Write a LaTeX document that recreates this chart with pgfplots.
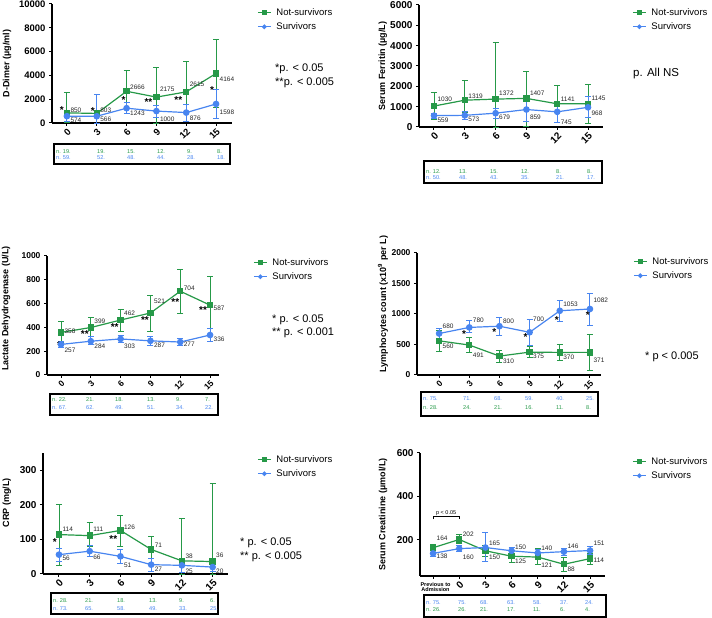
\documentclass[border=0pt]{standalone}
\usepackage{fontspec}
\setmainfont{Liberation Sans}
\usepackage{pgfplots}
\pgfplotsset{compat=1.18}
\usepackage{pgfplotstable}
\definecolor{gN}{RGB}{38,153,72}
\definecolor{bS}{RGB}{72,133,240}
\newcommand{\fs}[1]{\fontsize{#1}{#1}\selectfont}
\pgfkeys{/pgf/number format/.cd,1000 sep={},assume math mode=true}
\pgfplotsset{
 prism/.style={scale only axis, axis lines=left, axis line style={-, line width=1.3pt},
   tick style={line width=1pt,black}, tick align=outside, major tick length=3pt,
   clip=false, scaled y ticks=false, scaled x ticks=false, ymin=0,
   xtick={0,3,6,9,12,15},
   xticklabel style={rotate=45, anchor=north east, inner sep=1pt},
   ylabel style={font=\bfseries\fs{9}, anchor=center},
   legend cell align=left,
   legend style={draw=none, fill=none, inner sep=0pt, font=\fs{9.5}, row sep=2pt, column sep=3pt, anchor=north west},
   legend image code/.code={\draw[mark repeat=2,mark phase=2,##1,mark size=1.7pt] plot coordinates {(0pt,0pt) (6.5pt,0pt) (13pt,0pt)};}},
 vals/.style={nodes near coords, visualization depends on={\thisrow{s}\as\mys},
   every node near coord/.append style={anchor=west, xshift=2.5pt, yshift=\mys pt, font=\fs{6.5}, text=black!85, inner sep=0.5pt},
   error bars/y dir=both, error bars/y explicit,
   error bars/error bar style={line width=0.9pt},
   error bars/error mark options={rotate=90, mark size=3pt, line width=0.9pt}},
 gp/.style={color=gN, line width=1.2pt, mark=square*, mark size=2.6pt, mark options={solid}, vals},
 bp/.style={color=bS, line width=1.2pt, mark=*, mark size=2.7pt, mark options={solid}, vals},
}
\newcommand{\PL}[2]{\addplot[#1] table[x=x,y=y,y error plus expr=\thisrow{hi}-\thisrow{y},y error minus expr=\thisrow{y}-\thisrow{lo}] {#2};}
\newcommand{\st}[3]{\node[font=\bfseries\fs{10}, inner sep=0pt, yshift=-2pt] at (axis cs:#1,#2) {#3};}

% D-Dimer
\pgfplotstableread{
x y lo hi s
0 850 50 2550 3
3 803 650 950 3
6 2666 800 4450 4
9 2175 0 4650 8
12 2615 100 5200 8
15 4164 1300 7000 -6
}\ddG
\pgfplotstableread{
x y lo hi s
0 574 100 900 -4
3 566 0 2400 -3
6 1243 800 1750 -5
9 1000 500 1500 -8
12 876 100 1600 -6
15 1598 350 2850 -8
}\ddB
% Ferritin
\pgfplotstableread{
x y lo hi s
0 1030 380 1700 7
3 1319 700 2280 4
6 1372 0 4150 6
9 1407 50 2750 5
12 1141 230 2050 5
15 1145 150 2100 5
}\feG
\pgfplotstableread{
x y lo hi s
0 559 420 680 -5
3 573 380 760 -4
6 679 400 930 -4
9 859 280 1350 -8
12 745 230 1200 -10
15 968 450 1480 -6
}\feB
% LDH
\pgfplotstableread{
x y lo hi s
0 358 270 450 1
3 399 320 480 6
6 462 370 550 7
9 521 370 670 12
12 704 515 885 3
15 587 340 830 -3
}\ldG
\pgfplotstableread{
x y lo hi s
0 257 230 285 -6
3 284 255 320 -5
6 303 270 335 -7
9 287 250 325 -4
12 277 245 310 -2
15 336 285 390 -4
}\ldB
% Lymphocytes
\pgfplotstableread{
x y lo hi s
0 560 390 730 -5
3 491 370 620 -10
6 310 210 410 -5
9 375 280 470 -4
12 370 240 500 -5
15 371 70 670 -8
}\lyG
\pgfplotstableread{
x y lo hi s
0 680 600 770 7
3 780 690 890 7
6 800 650 945 5
9 700 490 910 13
12 1053 880 1220 7
15 1082 820 1340 9
}\lyB
% CRP
\pgfplotstableread{
x y lo hi s
0 114 25 202 5
3 111 80 148 6
6 126 80 170 3
9 71 30 108 4
12 38 0 160 5
15 36 0 262 6
}\crG
\pgfplotstableread{
x y lo hi s
0 56 37 73 -4
3 66 50 82 -6
6 51 30 70 -9
9 27 8 46 -5
12 25 5 40 -6
15 20 8 32 -4
}\crB
% Creatinine
\pgfplotstableread{
x y lo hi s
0 164 150 180 9
1 202 182 225 5
2 150 125 175 -6
3 125 95 150 -5
4 121 85 160 -8
5 88 55 120 -5
6 114 85 140 -2
}\ceG
\pgfplotstableread{
x y lo hi s
0 138 125 150 -3
1 160 145 175 -9
2 165 100 235 4
3 150 135 165 4
4 140 125 155 5
5 146 130 160 5
6 151 135 170 7
}\ceB

\begin{document}
\begin{tikzpicture}
\useasboundingbox (0pt,0pt) rectangle (712pt,618pt);

% ---- Panel 1: D-Dimer
\begin{axis}[prism, at={(52pt,495pt)}, anchor=south west, width=180pt, height=119pt,
  xmin=-1.5, xmax=16.6, ymax=10000, ytick={0,2000,...,10000},
  tick label style={font=\bfseries\fs{9.5}},
  ylabel={D-Dimer (µg/ml)}, ylabel style={at={(axis description cs:-0.25,0.5)}},
  legend style={at={(axis description cs:1.139,0.983)}}]
\PL{gp}{\ddG}\addlegendentry{Not-survivors}
\PL{bp}{\ddB}\addlegendentry{Survivors}
\st{-0.5}{1260}{*}\st{2.6}{1180}{*}\st{5.7}{2100}{*}
\st{8.2}{1930}{**}\st{11.2}{2100}{**}\st{14.6}{2940}{*}
\end{axis}

% ---- Panel 2: Ferritin
\begin{axis}[prism, at={(419pt,491pt)}, anchor=south west, width=184pt, height=122pt,
  xmin=-1.46, xmax=16.46, ymax=6000, ytick={0,1000,...,6000},
  tick label style={font=\bfseries\fs{10}},
  ylabel={Serum Ferritin (µg/L)}, ylabel style={at={(axis description cs:-0.196,0.5)}},
  legend style={at={(axis description cs:1.158,0.992)}}]
\PL{gp}{\feG}\addlegendentry{Not-survivors}
\PL{bp}{\feB}\addlegendentry{Survivors}
\end{axis}

% ---- Panel 3: LDH
\begin{axis}[prism, at={(47pt,243pt)}, anchor=south west, width=172pt, height=119pt,
  xmin=-1.41, xmax=15.9, ymax=1000, ytick={0,200,...,1000},
  tick label style={font=\bfseries\fs{8.5}},
  ylabel={Lactate Dehydrogenase (U/L)}, ylabel style={at={(axis description cs:-0.238,0.56)}},
  legend style={at={(axis description cs:1.198,1.0)}}]
\PL{gp}{\ldG}\addlegendentry{Not-survivors}
\PL{bp}{\ldB}\addlegendentry{Survivors}
\st{-0.2}{269}{*}\st{2.4}{361}{**}\st{5.4}{420}{**}
\st{8.45}{479}{**}\st{11.5}{630}{**}\st{14.3}{563}{**}
\end{axis}

% ---- Panel 4: Lymphocytes
\begin{axis}[prism, at={(417pt,243pt)}, anchor=south west, width=184pt, height=122pt,
  xmin=-2.2, xmax=16.1, ymax=2000, ytick={0,500,...,2000},
  tick label style={font=\bfseries\fs{8.5}},
  ylabel={Lymphocytes count (x10\textsuperscript{9} per L)}, ylabel style={at={(axis description cs:-0.185,0.58)}},
  legend style={at={(axis description cs:1.174,0.984)}}]
\PL{gp}{\lyG}\addlegendentry{Not-survivors}
\PL{bp}{\lyB}\addlegendentry{Survivors}
\st{2.48}{705}{*}\st{5.5}{738}{*}\st{8.6}{656}{*}
\st{11.7}{935}{*}\st{14.8}{1017}{*}
\end{axis}

% ---- Panel 5: CRP
\begin{axis}[prism, at={(43pt,44pt)}, anchor=south west, width=185pt, height=121pt,
  xmin=-1.56, xmax=16.5, ymax=350, ytick={0,100,200,300},
  tick label style={font=\bfseries\fs{10}},
  ylabel={CRP (mg/L)}, ylabel style={at={(axis description cs:-0.195,0.59)}},
  legend style={at={(axis description cs:1.157,1.0)}}]
\PL{gp}{\crG}\addlegendentry{Not-survivors}
\PL{bp}{\crB}\addlegendentry{Survivors}
\st{-0.4}{98}{*}\st{5.3}{107}{**}
\end{axis}

% ---- Panel 6: Creatinine
\begin{axis}[prism, at={(420pt,42pt)}, anchor=south west, width=185pt, height=123pt,
  xmin=-0.5, xmax=6.57, ymin=34, ymax=600, ytick={200,400,600},
  xtick={0,...,6}, xticklabels={,0,3,6,9,12,15},
  tick label style={font=\bfseries\fs{10}},
  ylabel={Serum Creatinine (µmol/L)}, ylabel style={at={(axis description cs:-0.2,0.5)}},
  legend style={at={(axis description cs:1.146,0.984)}}]
\PL{gp}{\ceG}\addlegendentry{Not-survivors}
\PL{bp}{\ceB}\addlegendentry{Survivors}
\draw[line width=0.8pt] (axis cs:0,294) -- (axis cs:0,306) -- (axis cs:1,306) -- (axis cs:1,294);
\node[font=\fs{5.5}, anchor=south, inner sep=0.5pt] at (axis cs:0.5,308) {p < 0.05};
\end{axis}
\node[font=\bfseries\fs{5.5}, align=center, inner sep=0pt] at (435.5pt,31pt) {Previous to\\Admission};

% ---- p-value texts
\node[anchor=west, font=\fs{11}, inner sep=0pt] at (275pt,549pt) {*p. < 0.05};
\node[anchor=west, font=\fs{11}, inner sep=0pt] at (275pt,535pt) {**p. < 0.005};
\node[anchor=west, font=\fs{11.5}, inner sep=0pt] at (633pt,544pt) {p. All NS};
\node[anchor=west, font=\fs{11}, inner sep=0pt] at (272pt,298pt) {* p. < 0.05};
\node[anchor=west, font=\fs{11}, inner sep=0pt] at (272pt,285pt) {** p. < 0.001};
\node[anchor=west, font=\fs{11}, inner sep=0pt] at (645pt,261pt) {* p < 0.005};
\node[anchor=west, font=\fs{11}, inner sep=0pt] at (240pt,75pt) {* p. < 0.05};
\node[anchor=west, font=\fs{11}, inner sep=0pt] at (240pt,61pt) {** p. < 0.005};

% ---- n tables
\begin{scope}[every node/.style={anchor=west, inner sep=0pt, font=\fs{5.6}}]
\draw[line width=1.4pt] (54pt,474pt) rectangle (230pt,454pt);
\foreach \xx/\lab in {56/n. 19.,97/19.,127/15.,157/12.,187/9.,217/8.} \node[text=gN] at (\xx pt,466pt) {\lab};
\foreach \xx/\lab in {56/n. 59.,97/52.,127/48.,157/44.,187/28.,217/18.} \node[text=bS] at (\xx pt,460pt) {\lab};

\draw[line width=1.4pt] (424pt,457pt) rectangle (602pt,435pt);
\foreach \xx/\lab in {426/n. 12.,459/13.,490/15.,521/12.,556/8.,587/8.} \node[text=gN] at (\xx pt,446pt) {\lab};
\foreach \xx/\lab in {426/n. 50.,459/48.,490/43.,521/35.,556/21.,587/17.} \node[text=bS] at (\xx pt,440pt) {\lab};

\draw[line width=1.4pt] (50pt,224pt) rectangle (218pt,203pt);
\foreach \xx/\lab in {52/n. 22.,86/21.,115/18.,147/13.,176/9.,205/7.} \node[text=gN] at (\xx pt,218.5pt) {\lab};
\foreach \xx/\lab in {52/n. 67.,86/62.,115/49.,147/51.,176/34.,205/22.} \node[text=bS] at (\xx pt,210.3pt) {\lab};

\draw[line width=1.4pt] (421pt,226pt) rectangle (598pt,202pt);
\foreach \xx/\lab in {423/n. 75.,463/71.,494/68.,525/59.,556/40.,586/25.} \node[text=bS] at (\xx pt,219pt) {\lab};
\foreach \xx/\lab in {423/n. 28.,463/24.,494/21.,525/16.,556/11.,586/8.} \node[text=gN] at (\xx pt,210pt) {\lab};

\draw[line width=1.4pt] (51pt,25pt) rectangle (218pt,4pt);
\foreach \xx/\lab in {53/n. 28.,85/21.,117/18.,149/13.,179/9.,210/6.} \node[text=gN] at (\xx pt,17.3pt) {\lab};
\foreach \xx/\lab in {53/n. 73.,85/65.,117/58.,149/49.,179/33.,210/25.} \node[text=bS] at (\xx pt,9.5pt) {\lab};

\draw[line width=1.4pt] (424pt,23pt) rectangle (606pt,1pt);
\foreach \xx/\lab in {426/n. 75.,458/75.,480/68.,507/63.,533/58.,560/37.,585/24.} \node[text=bS] at (\xx pt,15.3pt) {\lab};
\foreach \xx/\lab in {426/n. 26.,458/26.,480/21.,507/17.,533/11.,560/6.,585/4.} \node[text=gN] at (\xx pt,8pt) {\lab};
\end{scope}
\end{tikzpicture}
\end{document}
